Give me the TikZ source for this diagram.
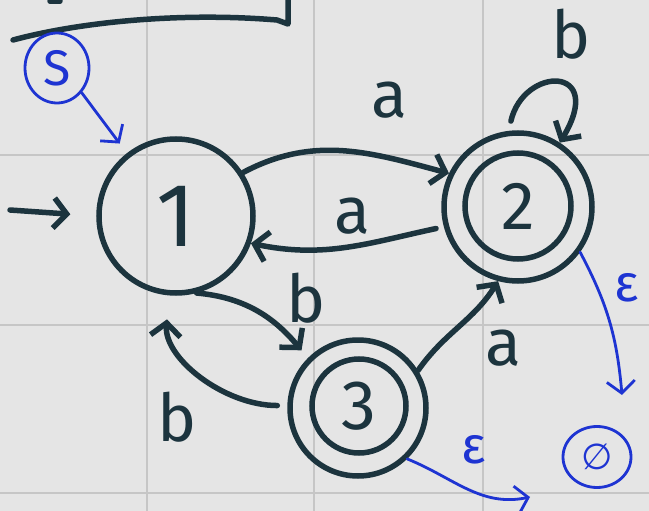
\documentclass[tikz,border=0pt]{standalone}
\usepackage{fontspec}
\setmainfont{Fira Sans}
\newfontfamily\dejavu{DejaVu Sans}
\usetikzlibrary{arrows.meta,shapes.geometric}
\definecolor{inkc}{RGB}{28,52,62}
\definecolor{penc}{RGB}{30,52,210}
\definecolor{paperc}{RGB}{229,229,229}
\definecolor{gridc}{RGB}{198,198,198}
\begin{document}
\begin{tikzpicture}[x=1pt,y=-1pt,
  inkline/.style={draw=inkc, line width=5.5pt, line cap=round, line join=round},
  st/.style={circle, draw=inkc, line width=5.5pt, inner sep=0pt, text=inkc},
  dedge/.style={inkline, -{Straight Barb[length=13pt,width=30pt]}},
  bedge/.style={draw=penc, line width=2.8pt, line cap=round, line join=round, -{Straight Barb[length=12pt,width=28pt]}},
  lbl/.style={text=inkc, inner sep=0pt, font=\fontsize{66}{70}\selectfont},
  blbl/.style={text=penc, inner sep=0pt, font=\fontsize{52}{56}\selectfont},
  gridline/.style={draw=gridc, line width=2pt},
]
\useasboundingbox (0,0) rectangle (649,511);
\fill[paperc] (0,0) rectangle (649,511);
% grid
\foreach \gx in {147,314,483} \draw[gridline] (\gx,0) -- (\gx,511);
\foreach \gy in {155,325,493} \draw[gridline] (0,\gy) -- (649,\gy);
% top stroke remnants
\draw[inkline] (13,40) .. controls (80,22) and (180,12) .. (277,20) -- (288,24) -- (288,-4);
\draw[inkline] (50,1) -- (60,1);
% states
\node[st, minimum size=154pt, font=\fontsize{90}{90}\selectfont] (s1) at (176,216) {1};
\node[st, minimum size=148pt] (s2) at (518,207) {};
\node[st, minimum size=106pt, font=\fontsize{68}{70}\selectfont] (s2i) at (518,206) {2};
\node[st, minimum size=136pt] (s3) at (358,408) {};
\node[st, minimum size=94pt, font=\fontsize{70}{70}\selectfont] (s3i) at (359,406) {3};
% initial arrow
\coordinate (i0) at (10,210);
\draw[dedge, shorten >=26pt] (i0) -- (s1.west);
% transitions
\draw[dedge] (s1.33) to[out=28,in=165] (s2.154);
\draw[dedge, shorten <=8pt] (s2.195) to[out=192,in=-12] (s1.-20);
\draw[dedge, shorten <=10pt] (s2.97) .. controls +(15,-65) and +(47,-78) .. (s2.57);
\draw[dedge, shorten >=10pt] (s1.-75) to[out=-5,in=130] (s3.135);
\draw[dedge, shorten <=10pt, shorten >=24pt] (s3.178) to[out=180,in=-95] (s1.-95);
\draw[dedge] (s3.32) to[out=55,in=238] (s2.-105);
% labels
\node[lbl] (la12) at (389,100) {a};
\node[lbl] (la21) at (352,216) {a};
\node[lbl] (lb22) at (571,34) {b};
\node[lbl] (lb13) at (306,298) {b};
\node[lbl] (lb31) at (177,417) {b};
\node[lbl] (la32) at (503,348) {a};
% blue annotations
\node[ellipse, draw=penc, line width=2.8pt, minimum width=64pt, minimum height=70pt, inner sep=0pt, text=penc, font=\fontsize{50}{50}\selectfont] (S) at (57,68) {S};
\draw[bedge, shorten >=12pt] (S.-45) -- (s1.128);
\node[ellipse, draw=penc, line width=2.8pt, minimum width=68pt, minimum height=61pt, inner sep=0pt, text=penc, font=\dejavu\fontsize{36}{36}\selectfont] (D) at (597,457) {∅};
\coordinate (e2) at (622,395);
\draw[bedge] (s2.-36) to[out=-62,in=95] (e2);
\node[blbl] (le2) at (627,288) {ε};
\coordinate (e3) at (530,497);
\draw[bedge] (s3.-46) to[out=-22,in=192] (e3);
\node[blbl] (le3) at (474,450) {ε};
\end{tikzpicture}
\end{document}
